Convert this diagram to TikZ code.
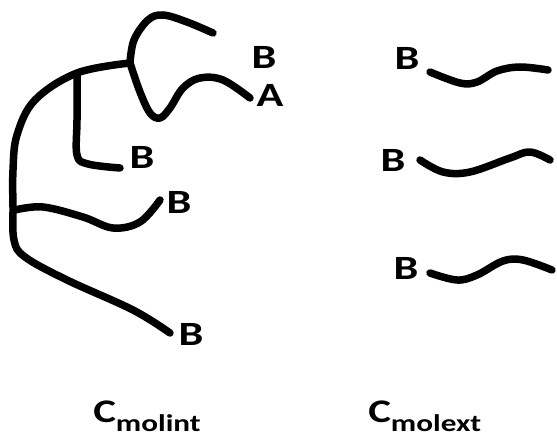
\documentclass[tikz,border=0pt]{standalone}
\usepackage{fontspec}
\setmainfont{Carlito}
\begin{document}
\begin{tikzpicture}[x=1pt,y=-1pt,
  stroke/.style={line width=7.5pt,line cap=round,line join=round},
  lbl/.style={inner sep=0pt,font=\fontsize{34}{34}\selectfont\bfseries,xscale=1.3},
  captext/.style={inner sep=0pt,anchor=base west,font=\fontsize{33}{33}\selectfont\bfseries,xscale=1.3}]
\useasboundingbox (0,0) rectangle (557,443);
% internal molecule
\draw[stroke] plot[smooth,tension=0.6] coordinates {(130,63) (77,73) (35,100) (17,135) (13,170) (13,207) (14,240) (25,257) (67,280) (133,310) (170,333)};
\draw[stroke] plot[smooth,tension=0.6] coordinates {(77,76) (77,120) (77,155) (88,164) (120,168)};
\draw[stroke] plot[smooth,tension=0.6] coordinates {(15,210) (43,207) (83,217) (113,228) (140,222) (160,200)};
\draw[stroke] plot[smooth,tension=0.6] coordinates {(130,63) (134,40) (148,20) (163,15) (187,22) (213,33)};
\draw[stroke] plot[smooth,tension=0.6] coordinates {(130,63) (140,92) (150,113) (160,118) (170,108) (183,88) (200,78) (223,80) (250,98)};
% external molecules
\draw[stroke] plot[smooth,tension=0.6] coordinates {(430,72) (460,83) (477,82) (497,71) (520,67) (548,70)};
\draw[stroke] plot[smooth,tension=0.6] coordinates {(420,160) (443,172) (470,172) (510,158) (530,152) (550,160)};
\draw[stroke] plot[smooth,tension=0.6] coordinates {(430,273) (457,280) (477,275) (503,261) (523,260) (552,270)};
% labels
\node[lbl] (b1) at (264,57) {B};
\node[lbl] (a1) at (270,95) {A};
\node[lbl] (b2) at (142,157) {B};
\node[lbl] (b3) at (179,202) {B};
\node[lbl] (b4) at (191,334) {B};
\node[lbl] (e1) at (407,58) {B};
\node[lbl] (e2) at (393,160) {B};
\node[lbl] (e3) at (406,268) {B};
\node[captext] (ci) at (93,423) {C\raisebox{-9pt}{\fontsize{24}{24}\selectfont molint}};
\node[captext] (ce) at (368,423) {C\raisebox{-9pt}{\fontsize{24}{24}\selectfont molext}};
\end{tikzpicture}
\end{document}
